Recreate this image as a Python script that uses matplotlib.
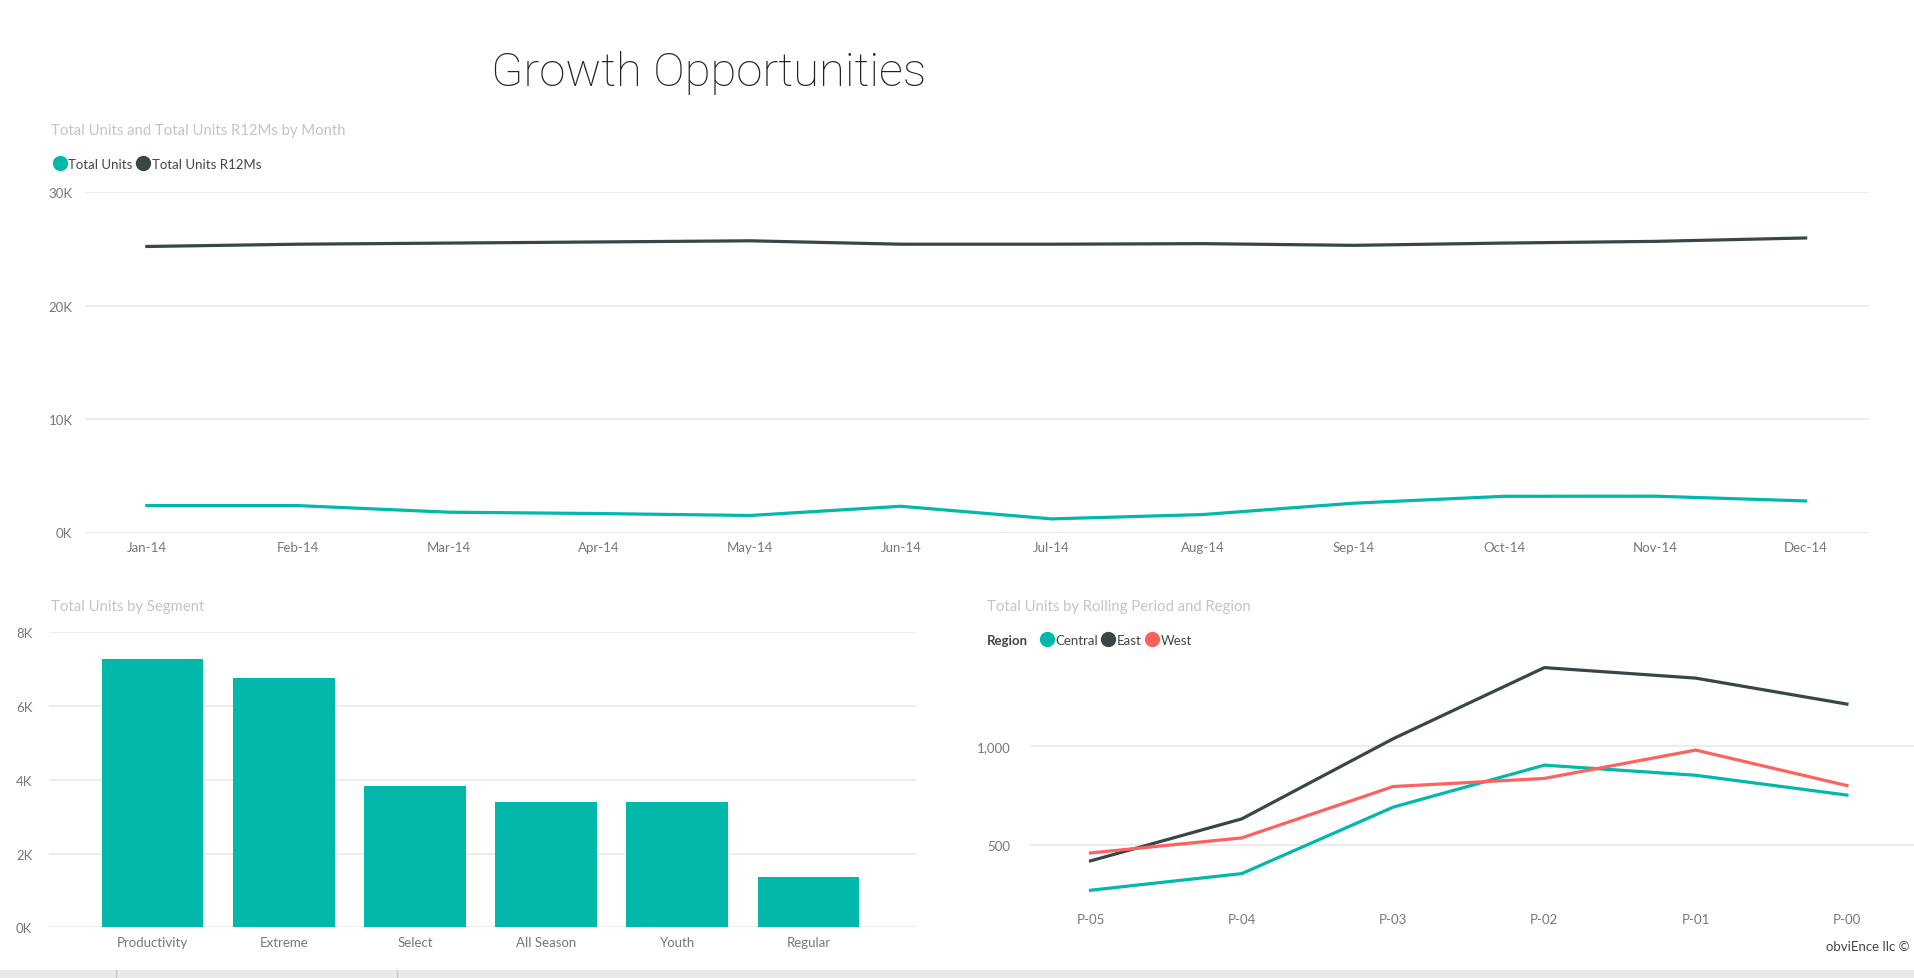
import matplotlib.pyplot as plt
from matplotlib.lines import Line2D
from matplotlib.patches import Rectangle
from matplotlib.ticker import FuncFormatter

plt.rcParams['font.family'] = ['Lato', 'DejaVu Sans']

TEAL = '#01B8AA'
DARK = '#374649'
RED = '#FD625E'
GRID = '#e9e9e9'
TICK = '#777777'
TITLE_GRAY = '#c4c4c4'

# data
months = ['Jan-14', 'Feb-14', 'Mar-14', 'Apr-14', 'May-14', 'Jun-14',
          'Jul-14', 'Aug-14', 'Sep-14', 'Oct-14', 'Nov-14', 'Dec-14']
total_units = [2370, 2370, 1790, 1670, 1500, 2310, 1200, 1580, 2580, 3190, 3200, 2780]
total_units_r12 = [25200, 25400, 25500, 25600, 25700, 25400, 25400, 25450, 25300, 25500, 25650, 25950]

segments = ['Productivity', 'Extreme', 'Select', 'All Season', 'Youth', 'Regular']
segment_units = [7280, 6760, 3820, 3400, 3390, 1360]

periods = ['P-05', 'P-04', 'P-03', 'P-02', 'P-01', 'P-00']
regions = ['Central', 'East', 'West']
region_units = {
    'Central': [273, 357, 692, 904, 853, 753],
    'East': [421, 633, 1037, 1396, 1343, 1212],
    'West': [461, 537, 796, 837, 980, 801],
}
region_colors = {'Central': TEAL, 'East': DARK, 'West': RED}

W, H = 1915, 979
fig = plt.figure(figsize=(W / 100, H / 100), dpi=100)
fig.patch.set_facecolor('white')


def px_axes(x0, y0, x1, y1):
    # pixel box (top-left origin) -> figure axes
    return fig.add_axes([x0 / W, 1 - y1 / H, (x1 - x0) / W, (y1 - y0) / H])


def style(ax, pad_y=9):
    for s in ax.spines.values():
        s.set_visible(False)
    ax.grid(axis='y', color=GRID, linewidth=1.2)
    ax.set_axisbelow(True)
    ax.tick_params(length=0, colors=TICK, labelsize=9.5)
    ax.tick_params(axis='y', pad=pad_y)
    ax.tick_params(axis='x', pad=6)


k_fmt = FuncFormatter(lambda v, p: f'{int(v / 1000)}K')

# main title
fig.text(709 / W, 1 - 73 / H, 'Growth Opportunities', ha='center', va='center',
         fontsize=34, fontweight='light', color='#252423', family=['Roboto', 'DejaVu Sans'])

# top line chart
ax1 = px_axes(85, 193, 1869, 533.5)
style(ax1)
x = range(len(months))
ax1.plot(x, total_units, color=TEAL, lw=2.3)
ax1.plot(x, total_units_r12, color=DARK, lw=2.3)
ax1.set_ylim(0, 30000)
ax1.set_yticks([0, 10000, 20000, 30000])
ax1.yaxis.set_major_formatter(k_fmt)
ax1.set_xlim(-0.41, 11.42)
ax1.set_xticks(list(x))
ax1.set_xticklabels(months)
fig.text(51 / W, 1 - 131 / H, 'Total Units and Total Units R12Ms by Month',
         fontsize=10.7, color=TITLE_GRAY, va='center')
h1 = [Line2D([], [], marker='o', ls='none', color=c, markersize=10) for c in (TEAL, DARK)]
fig.legend(h1, ['Total Units', 'Total Units R12Ms'], loc='center left',
           bbox_to_anchor=(49 / W, 1 - 165 / H), ncol=2, frameon=False,
           handlelength=0.6, handletextpad=0.35, columnspacing=0.5,
           borderpad=0, fontsize=9.5, labelcolor='#444444')

# bar chart
ax2 = px_axes(49, 633.3, 916, 928.3)
style(ax2, pad_y=12)
ax2.bar(range(len(segments)), segment_units, width=0.775, color=TEAL)
ax2.set_ylim(0, 8000)
ax2.set_yticks([0, 2000, 4000, 6000, 8000])
ax2.yaxis.set_major_formatter(k_fmt)
ax2.set_xlim(-0.79, 5.82)
ax2.set_xticks(range(len(segments)))
ax2.set_xticklabels(segments)
fig.text(51 / W, 1 - 607 / H, 'Total Units by Segment',
         fontsize=10.7, color=TITLE_GRAY, va='center')

# region line chart
ax3 = px_axes(1030, 648, 1915, 905.7)
style(ax3, pad_y=14)
for r in regions:
    ax3.plot(range(len(periods)), region_units[r], color=region_colors[r], lw=2.3)
ax3.set_ylim(200, 1500)
ax3.set_yticks([500, 1000])
ax3.yaxis.set_major_formatter(FuncFormatter(lambda v, p: f'{int(v):,}'))
ax3.set_xlim(-0.4, 5.45)
ax3.set_xticks(range(len(periods)))
ax3.set_xticklabels(periods)
fig.text(987 / W, 1 - 607 / H, 'Total Units by Rolling Period and Region',
         fontsize=10.7, color=TITLE_GRAY, va='center')
fig.text(987 / W, 1 - 641 / H, 'Region', fontsize=9.5, fontweight='bold',
         color='#444444', va='center')
h3 = [Line2D([], [], marker='o', ls='none', color=region_colors[r], markersize=10) for r in regions]
fig.legend(h3, regions, loc='center left', bbox_to_anchor=(1036 / W, 1 - 641 / H),
           ncol=3, frameon=False, handlelength=0.6, handletextpad=0.35,
           columnspacing=0.5, borderpad=0, fontsize=9.5, labelcolor='#444444')

fig.text(1910 / W, 1 - 947 / H, 'obviEnce llc \u00a9', ha='right', va='center',
         fontsize=9.5, color='#444444')

# bottom tab strip
fig.patches.append(Rectangle((0, 0), 1, 8 / H, transform=fig.transFigure,
                             facecolor='#eaeaea', edgecolor='none'))
for sx in (116, 397):
    fig.lines.append(Line2D([sx / W, sx / W], [0, 8 / H], transform=fig.transFigure,
                            color='#c8c8c8', lw=1))

fig.savefig('out.png', dpi=100, facecolor='white')
